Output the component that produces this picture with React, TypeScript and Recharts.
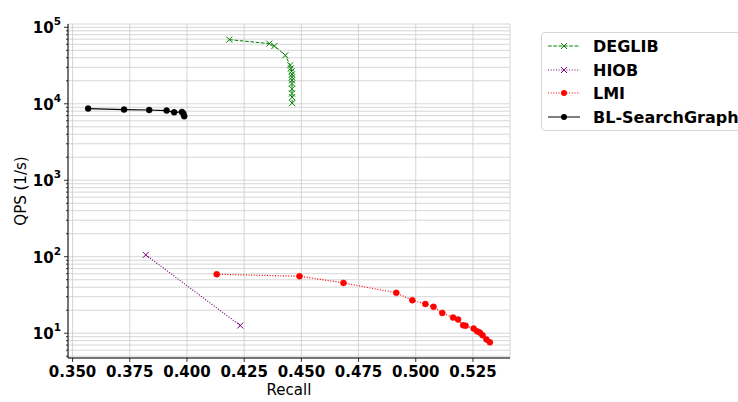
import React from 'react';
import { ScatterChart, Scatter, XAxis, YAxis, CartesianGrid, Legend } from 'recharts';

const recallTicks = [0.35, 0.375, 0.4, 0.425, 0.45, 0.475, 0.5, 0.525];
const qpsMajorTicks = [10, 100, 1000, 10000, 100000];
const qpsMinorTicks = [
  5, 6, 7, 8, 9,
  20, 30, 40, 50, 60, 70, 80, 90,
  200, 300, 400, 500, 600, 700, 800, 900,
  2000, 3000, 4000, 5000, 6000, 7000, 8000, 9000,
  20000, 30000, 40000, 50000, 60000, 70000, 80000, 90000,
];

const deglibRecall = [0.4185, 0.436, 0.4382, 0.443, 0.4451, 0.4454, 0.4457, 0.4459, 0.4459, 0.4459, 0.4459, 0.4459, 0.4459, 0.446, 0.446];
const deglibQps = [69000, 61200, 57000, 43100, 31900, 29100, 26600, 24300, 22200, 20300, 18400, 15700, 13600, 12200, 10200];

const hiobRecall = [0.382, 0.4233];
const hiobQps = [105.7, 12.6];

const lmiRecall = [0.413, 0.4492, 0.4684, 0.4915, 0.4985, 0.5042, 0.5078, 0.5116, 0.5163, 0.5185, 0.5207, 0.5218, 0.5253, 0.5268, 0.528, 0.5292, 0.5309, 0.5324];
const lmiQps = [59.0, 55.6, 45.5, 33.7, 27.0, 24.1, 22.1, 18.4, 16.0, 15.1, 12.7, 12.5, 11.5, 10.6, 10.2, 9.4, 8.3, 7.6];

const blRecall = [0.3568, 0.3725, 0.3835, 0.3911, 0.3944, 0.3978, 0.3984, 0.3988];
const blQps = [8650, 8390, 8290, 8140, 7740, 7820, 7450, 6870];

const seriesNames = ['DEGLIB', 'HIOB', 'LMI', 'BL-SearchGraph'];

const zip = (xs: number[], ys: number[]) => xs.map((x, i) => ({ x, y: ys[i] }));

const deglibData = zip(deglibRecall, deglibQps);
const hiobData = zip(hiobRecall, hiobQps);
const lmiData = zip(lmiRecall, lmiQps);
const blData = zip(blRecall, blQps);

const FONT = 'DejaVu Sans, Liberation Sans, sans-serif';

const C_DEG = '#008000';
const C_HIOB = '#800080';
const C_LMI = '#ff0000';
const C_BL = '#000000';

const DASH_DEG = '3.7 1.6';
const DOT = '1 1.65';

const makeX = (color: string) => (props: any) => {
  const { cx, cy } = props;
  if (cx == null || cy == null) return <g />;
  const s = 3;
  return (
    <g>
      <line x1={cx - s} y1={cy - s} x2={cx + s} y2={cy + s} stroke={color} strokeWidth={1} />
      <line x1={cx - s} y1={cy + s} x2={cx + s} y2={cy - s} stroke={color} strokeWidth={1} />
    </g>
  );
};

const makeDot = (color: string, r: number) => (props: any) => {
  const { cx, cy } = props;
  if (cx == null || cy == null) return <g />;
  return <circle cx={cx} cy={cy} r={r} fill={color} stroke={color} strokeWidth={0.5} />;
};

const YTick = (props: any) => {
  const { x, y, payload } = props;
  const v = payload.value;
  const isMajor = qpsMajorTicks.includes(v);
  const e = Math.round(Math.log10(v));
  return (
    <g>
      <line x1={x - (isMajor ? 4 : 2)} x2={x} y1={y} y2={y} stroke="#000" strokeWidth={0.8} />
      {isMajor && (
        <text x={x - 7} y={y + 6} textAnchor="end" fontFamily={FONT} fontWeight="bold" fontSize={15} fill="#000">
          10
          <tspan dy={-8} fontSize={10.5}>{e}</tspan>
        </text>
      )}
    </g>
  );
};

const legendConfig = [
  { color: C_DEG, dash: DASH_DEG, marker: 'x' },
  { color: C_HIOB, dash: DOT, marker: 'x' },
  { color: C_LMI, dash: DOT, marker: 'o' },
  { color: C_BL, dash: undefined, marker: 'o' },
];

const LegendBox = () => {
  const rowsY = [13, 37, 60, 84];
  return (
    <div
      style={{
        width: 210,
        height: 99,
        border: '1px solid #d5d5d5',
        borderRadius: 4,
        background: '#ffffff',
        boxSizing: 'border-box',
      }}
    >
      <svg width={210} height={97} style={{ display: 'block' }}>
        {seriesNames.map((name, i) => {
          const cfg = legendConfig[i];
          const y = rowsY[i];
          return (
            <g key={name}>
              <line x1={6} x2={38} y1={y} y2={y} stroke={cfg.color} strokeWidth={1} strokeDasharray={cfg.dash} />
              {cfg.marker === 'x' ? (
                <g>
                  <line x1={19} y1={y - 3} x2={25} y2={y + 3} stroke={cfg.color} />
                  <line x1={19} y1={y + 3} x2={25} y2={y - 3} stroke={cfg.color} />
                </g>
              ) : (
                <circle cx={22} cy={y} r={3} fill={cfg.color} />
              )}
              <text x={51} y={y + 6} fontFamily={FONT} fontWeight="bold" fontSize={16} fill="#000">
                {name}
              </text>
            </g>
          );
        })}
      </svg>
    </div>
  );
};

const renderXLabel = () => (
  <text x={289} y={395} textAnchor="middle" fontFamily={FONT} fontSize={15} fill="#000">
    Recall
  </text>
);

const renderYLabel = () => (
  <text x={26} y={191} transform="rotate(-90 26 191)" textAnchor="middle" fontFamily={FONT} fontSize={15} fill="#000">
    QPS (1/s)
  </text>
);

const renderTitle = () => (
  <text x={289} y={19} textAnchor="middle" fontFamily={FONT} fontSize={17} fill="#000">
    Task 3
  </text>
);

const X_DOMAIN: [number, number] = [0.348, 0.5412];
const Y_DOMAIN: [number, number] = [4.74, 110500];

export default function App() {
  return (
    <div style={{ position: 'absolute', left: 0, top: 0, width: 738, height: 402, overflow: 'hidden', background: '#fff' }}>
      <ScatterChart width={738} height={402} margin={{ top: 24, right: 228, bottom: 0, left: 0 }}>
        <CartesianGrid stroke="#cccccc" strokeWidth={0.8} />
        <XAxis
          type="number"
          dataKey="x"
          domain={X_DOMAIN}
          allowDataOverflow
          ticks={recallTicks}
          interval={0}
          tickFormatter={(v: number) => v.toFixed(3)}
          height={44}
          tickSize={4}
          tickMargin={4}
          axisLine={{ stroke: '#000', strokeWidth: 1 }}
          tickLine={{ stroke: '#000', strokeWidth: 0.8 }}
          tick={{ fontSize: 15, fontWeight: 'bold', fill: '#000', fontFamily: FONT }}
          label={renderXLabel}
        />
        <XAxis
          xAxisId="top"
          orientation="top"
          type="number"
          domain={X_DOMAIN}
          allowDataOverflow
          height={0}
          tick={false}
          tickLine={false}
          axisLine={{ stroke: '#000', strokeWidth: 1 }}
          label={renderTitle}
        />
        <YAxis
          type="number"
          dataKey="y"
          scale="log"
          domain={Y_DOMAIN}
          allowDataOverflow
          ticks={[...qpsMinorTicks, ...qpsMajorTicks].sort((a, b) => a - b)}
          interval={0}
          width={68}
          tickSize={0}
          tickMargin={0}
          tickLine={false}
          axisLine={{ stroke: '#000', strokeWidth: 1 }}
          tick={<YTick />}
          label={renderYLabel}
        />
        <YAxis
          yAxisId="right"
          orientation="right"
          type="number"
          scale="log"
          domain={Y_DOMAIN}
          allowDataOverflow
          width={0}
          tick={false}
          tickLine={false}
          axisLine={{ stroke: '#000', strokeWidth: 1 }}
        />
        <Legend
          layout="vertical"
          align="center"
          verticalAlign="middle"
          wrapperStyle={{ left: 541, top: 32, width: 210 }}
          content={<LegendBox />}
        />
        <Scatter
          name="DEGLIB"
          data={deglibData}
          fill={C_DEG}
          line={{ stroke: C_DEG, strokeWidth: 1, strokeDasharray: DASH_DEG }}
          lineType="joint"
          shape={makeX(C_DEG)}
          isAnimationActive={false}
        />
        <Scatter
          name="HIOB"
          data={hiobData}
          fill={C_HIOB}
          line={{ stroke: C_HIOB, strokeWidth: 1.2, strokeDasharray: DOT }}
          lineType="joint"
          shape={makeX(C_HIOB)}
          isAnimationActive={false}
        />
        <Scatter
          name="LMI"
          data={lmiData}
          fill={C_LMI}
          line={{ stroke: C_LMI, strokeWidth: 1.2, strokeDasharray: DOT }}
          lineType="joint"
          shape={makeDot(C_LMI, 3)}
          isAnimationActive={false}
        />
        <Scatter
          name="BL-SearchGraph"
          data={blData}
          fill={C_BL}
          line={{ stroke: C_BL, strokeWidth: 1.2 }}
          lineType="joint"
          shape={makeDot(C_BL, 3)}
          isAnimationActive={false}
        />
      </ScatterChart>
    </div>
  );
}
